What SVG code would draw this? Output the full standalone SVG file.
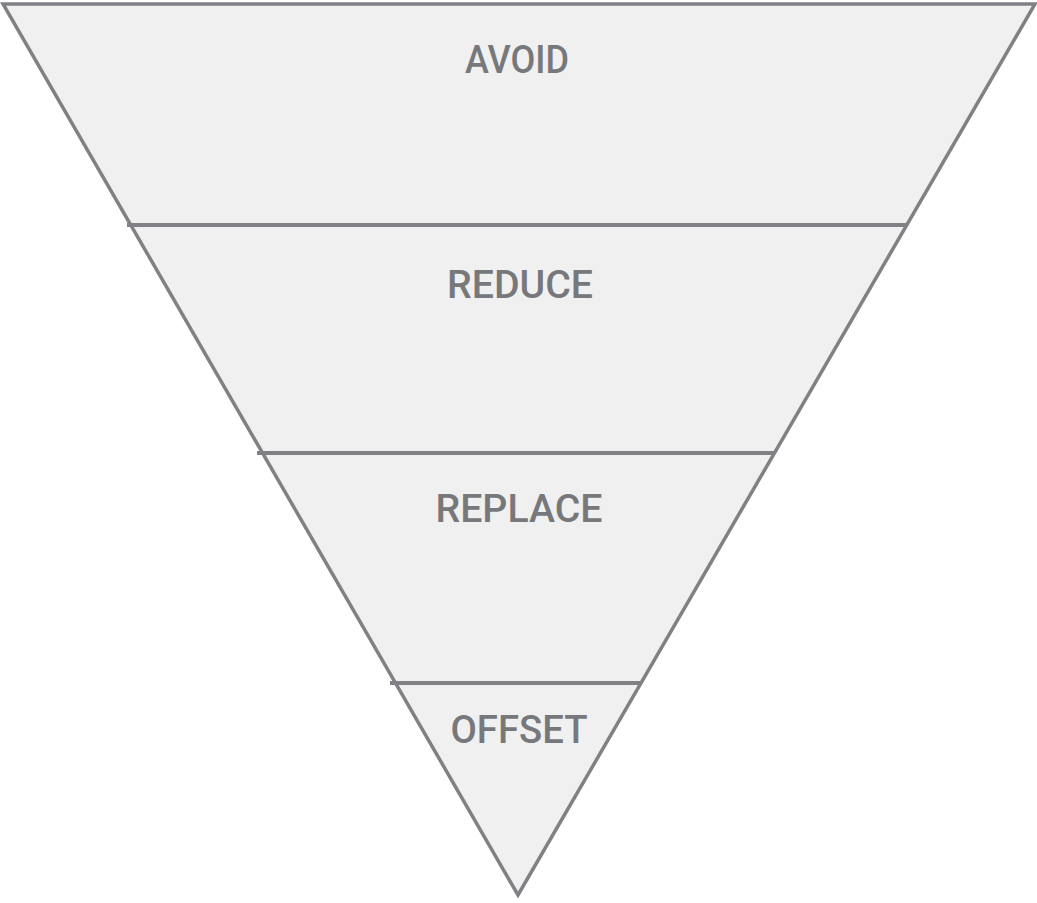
<svg xmlns="http://www.w3.org/2000/svg" width="1037" height="903" viewBox="0 0 1037 903">
<style>
.band{fill:#f0f0f0;stroke:none}
.edge{fill:none;stroke:#808185;stroke-width:3.5;stroke-linejoin:miter}
.div{stroke:#808185;stroke-width:4}
.lbl{font-family:Roboto,"Liberation Sans",Arial,sans-serif;font-weight:500;font-size:39px;fill:#77787b;text-anchor:middle}
</style>
<rect width="1037" height="903" fill="#ffffff"/>
<g id="avoid">
<polygon class="band" points="3,4 1035,4 907,225 130,225"/>
<text class="lbl" x="517" y="73" textLength="104" lengthAdjust="spacingAndGlyphs">AVOID</text>
</g>
<g id="reduce">
<polygon class="band" points="130,225 907,225 775,453 262,453"/>
<text class="lbl" x="520" y="298" textLength="146" lengthAdjust="spacingAndGlyphs">REDUCE</text>
</g>
<g id="replace">
<polygon class="band" points="262,453 775,453 641,683 395,683"/>
<text class="lbl" x="519" y="522" textLength="167" lengthAdjust="spacingAndGlyphs">REPLACE</text>
</g>
<g id="offset">
<polygon class="band" points="395,683 641,683 518,895"/>
<text class="lbl" x="519" y="743" textLength="137" lengthAdjust="spacingAndGlyphs">OFFSET</text>
</g>
<g id="connectors">
<polygon class="edge" points="3,4 1035,4 518,895"/>
<line class="div" x1="127" y1="225" x2="907" y2="225"/>
<line class="div" x1="257" y1="453" x2="774" y2="453"/>
<line class="div" x1="390" y1="683" x2="642" y2="683"/>
</g>
</svg>
